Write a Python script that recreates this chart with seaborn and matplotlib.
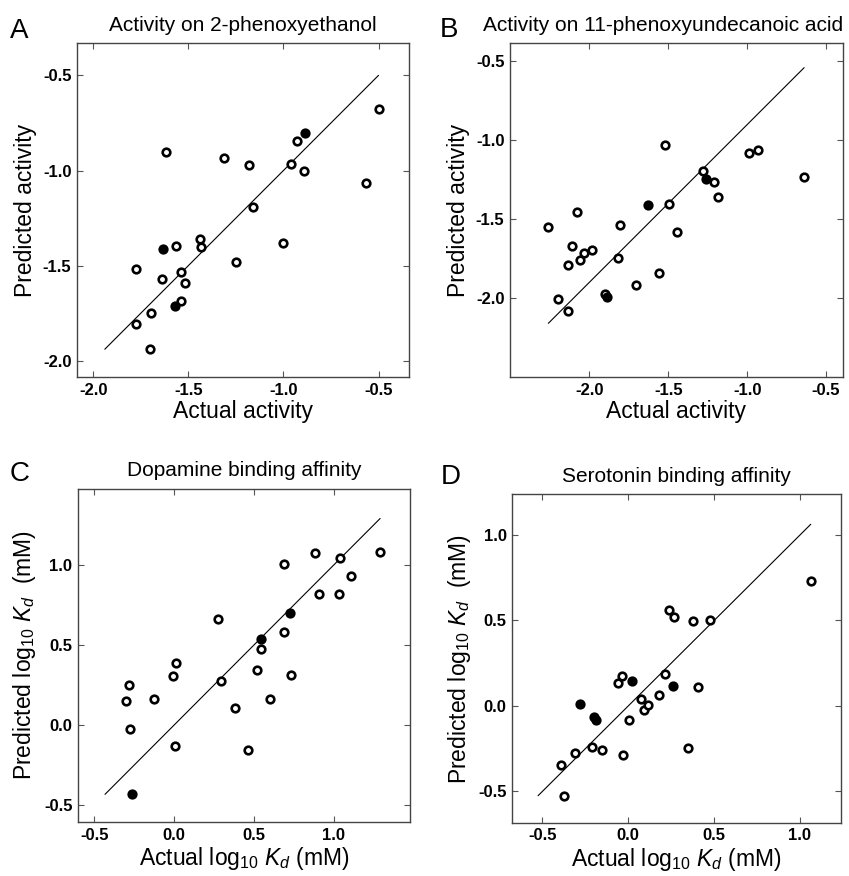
import numpy as np
import pandas as pd
import matplotlib
matplotlib.use("Agg")
import matplotlib.pyplot as plt
import seaborn as sns

# ---------------- data ----------------
a_x = [-1.615, -1.314, -1.179, -0.927, -0.889, -0.962, -0.890, -0.500, -0.568, -1.158,
       -1.001, -1.247, -1.440, -1.433, -1.564, -1.631, -1.774, -1.638, -1.538, -1.515,
       -1.540, -1.569, -1.695, -1.774, -1.701]
a_y = [-0.904, -0.932, -0.973, -0.845, -0.803, -0.967, -1.002, -0.679, -1.064, -1.190,
       -1.379, -1.478, -1.359, -1.400, -1.396, -1.412, -1.520, -1.569, -1.533, -1.592,
       -1.683, -1.711, -1.746, -1.807, -1.939]
a_filled = [0, 0, 0, 0, 1, 0, 0, 0, 0, 0, 0, 0, 0, 0, 0, 1, 0, 0, 0, 0, 0, 1, 0, 0, 0]
a_line = [-1.939, -0.500]
a_line_y = [-1.939, -0.500]

b_x = [-2.260, -2.076, -2.112, -2.137, -2.032, -2.059, -1.981, -2.199, -2.137, -1.901,
       -1.888, -1.808, -1.816, -1.702, -1.561, -1.626, -1.518, -1.493, -1.446, -1.277,
       -1.261, -1.208, -1.182, -0.986, -0.931, -0.639]
b_y = [-1.551, -1.454, -1.673, -1.789, -1.717, -1.757, -1.698, -2.008, -2.084, -1.977,
       -1.996, -1.538, -1.749, -1.918, -1.842, -1.411, -1.032, -1.407, -1.582, -1.194,
       -1.249, -1.268, -1.359, -1.084, -1.065, -1.234]
b_filled = [0, 0, 0, 0, 0, 0, 0, 0, 0, 0, 1, 0, 0, 0, 0, 1, 0, 0, 0, 0, 1, 0, 0, 0, 0, 0]
b_line = [-2.260, -0.639]
b_line_y = [-2.160, -0.542]

c_x = [-0.301, -0.284, -0.278, -0.261, -0.127, -0.010, 0.013, 0.006, 0.274, 0.292,
       0.382, 0.462, 0.518, 0.545, 0.547, 0.602, 0.687, 0.691, 0.727, 0.733,
       0.884, 0.909, 1.036, 1.042, 1.107, 1.291]
c_y = [0.150, 0.250, -0.025, -0.433, 0.163, 0.308, 0.385, -0.133, 0.660, 0.277,
       0.104, -0.154, 0.346, 0.477, 0.535, 0.165, 0.581, 1.004, 0.700, 0.313,
       1.075, 0.821, 0.821, 1.046, 0.931, 1.081]
c_filled = [0, 0, 0, 1, 0, 0, 0, 0, 0, 0, 0, 0, 0, 0, 1, 0, 0, 0, 1, 0, 0, 0, 0, 0, 0, 0]
c_line = [-0.433, 1.291]
c_line_y = [-0.433, 1.291]

d_x = [-0.394, -0.373, -0.307, -0.283, -0.212, -0.202, -0.190, -0.155, -0.062, -0.037,
       -0.031, 0.023, 0.006, 0.076, 0.091, 0.113, 0.180, 0.213, 0.239, 0.266,
       0.258, 0.349, 0.376, 0.408, 0.476, 1.063]
d_y = [-0.343, -0.525, -0.277, 0.012, -0.240, -0.066, -0.080, -0.259, 0.133, 0.177,
       -0.285, 0.148, -0.082, 0.043, -0.021, 0.008, 0.062, 0.187, 0.560, 0.523,
       0.119, -0.246, 0.497, 0.113, 0.505, 0.733]
d_filled = [0, 0, 0, 1, 0, 1, 1, 0, 0, 0, 0, 1, 0, 0, 0, 0, 0, 0, 0, 0, 1, 0, 0, 0, 0, 0]
d_line = [-0.525, 1.063]
d_line_y = [-0.525, 1.063]

letters = ["A", "B", "C", "D"]
titles = ["Activity on 2-phenoxyethanol", "Activity on 11-phenoxyundecanoic acid",
          "Dopamine binding affinity", "Serotonin binding affinity"]
xlabels = ["Actual activity", "Actual activity",
           r"Actual log$_{10}$ $K_d$ (mM)", r"Actual log$_{10}$ $K_d$ (mM)"]
ylabels = ["Predicted activity", "Predicted activity",
           r"Predicted log$_{10}$ $K_d$  (mM)", r"Predicted log$_{10}$ $K_d$  (mM)"]
act_ticks = [-2.0, -1.5, -1.0, -0.5]
kd_ticks = [-0.5, 0.0, 0.5, 1.0]

# ---------------- style ----------------
sns.set_style("ticks")
plt.rcParams["font.family"] = ["Liberation Sans", "DejaVu Sans"]
plt.rcParams["mathtext.fontset"] = "custom"
plt.rcParams["mathtext.rm"] = "Liberation Sans"
plt.rcParams["mathtext.it"] = "Liberation Sans:italic"
plt.rcParams["axes.unicode_minus"] = False
plt.rcParams["text.color"] = "black"
plt.rcParams["axes.labelcolor"] = "black"
plt.rcParams["xtick.labelcolor"] = "black"
plt.rcParams["ytick.labelcolor"] = "black"

fig = plt.figure(figsize=(8.49, 8.76), dpi=100)

panels = [
    dict(x=a_x, y=a_y, f=a_filled, lx=a_line, ly=a_line_y, rect=[0.0907, 0.5696, 0.3910, 0.3813],
         xlim=(-2.085, -0.34), ylim=(-2.085, -0.33), xt=act_ticks, yt=act_ticks, tx=0.5),
    dict(x=b_x, y=b_y, f=b_filled, lx=b_line, ly=b_line_y, rect=[0.6007, 0.5696, 0.3920, 0.3813],
         xlim=(-2.503, -0.394), ylim=(-2.50, -0.386), xt=act_ticks, yt=act_ticks, tx=0.46),
    dict(x=c_x, y=c_y, f=c_filled, lx=c_line, ly=c_line_y, rect=[0.0919, 0.0616, 0.3910, 0.3805],
         xlim=(-0.602, 1.478), ylim=(-0.606, 1.477), xt=kd_ticks, yt=kd_ticks, tx=0.5),
    dict(x=d_x, y=d_y, f=d_filled, lx=d_line, ly=d_line_y, rect=[0.6034, 0.0608, 0.3868, 0.3749],
         xlim=(-0.675, 1.237), ylim=(-0.683, 1.238), xt=kd_ticks, yt=kd_ticks, tx=0.5),
]

letter_pos = [(10, 38), (440, 37), (10, 481), (441, 484)]

for i, p in enumerate(panels):
    ax = fig.add_axes(p["rect"])
    df = pd.DataFrame({"x": p["x"], "y": p["y"], "filled": np.array(p["f"], dtype=bool)})
    ldf = pd.DataFrame({"x": p["lx"], "y": p["ly"]})
    sns.lineplot(data=ldf, x="x", y="y", ax=ax, color="black", linewidth=0.8, zorder=1)
    sns.scatterplot(data=df[~df["filled"]], x="x", y="y", ax=ax, color="white",
                    edgecolor="black", linewidth=1.9, s=30, zorder=3)
    sns.scatterplot(data=df[df["filled"]], x="x", y="y", ax=ax, color="black",
                    edgecolor="black", linewidth=1.9, s=30, zorder=4)
    ax.set_xlim(*p["xlim"])
    ax.set_ylim(*p["ylim"])
    ax.set_xticks(p["xt"])
    ax.set_yticks(p["yt"])
    ax.set_xticklabels([f"{v:.1f}" for v in p["xt"]], fontweight="bold", fontsize=12)
    ax.set_yticklabels([f"{v:.1f}" for v in p["yt"]], fontweight="bold", fontsize=12)
    ax.tick_params(direction="in", length=4, width=0.8, color="#555555",
                   top=True, right=True, pad=4)
    for s in ax.spines.values():
        s.set_visible(True)
        s.set_color("#444444")
        s.set_linewidth(1.0)
    ax.set_xlabel(xlabels[i], fontsize=16.5, labelpad=2)
    ax.set_ylabel(ylabels[i], fontsize=16.5, labelpad=4)
    ax.set_title(titles[i], fontsize=15, pad=9, x=p["tx"])
    lx, ly = letter_pos[i]
    fig.text(lx / 849, 1 - ly / 876, letters[i], fontsize=20, va="baseline", ha="left")

fig.savefig("out.png", dpi=100)
